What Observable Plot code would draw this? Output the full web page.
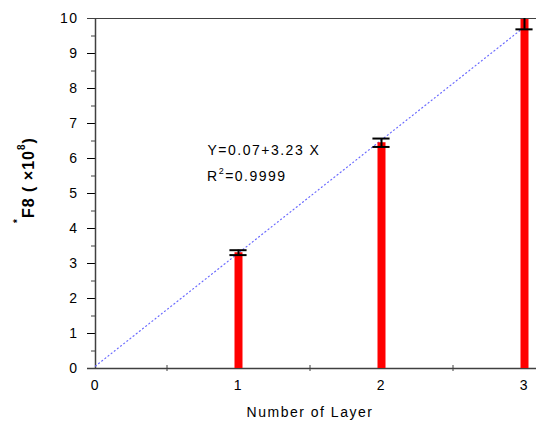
<!DOCTYPE html>
<html>
<head>
<meta charset="utf-8">
<script src="https://cdn.jsdelivr.net/npm/d3@7"></script>
<script src="https://cdn.jsdelivr.net/npm/@observablehq/plot@0.6"></script>
<style>
  html, body { margin: 0; padding: 0; background: #fff; }
  #chart svg { display: block; }
</style>
</head>
<body>
<div id="chart"></div>
<script>
// ---- data ----
const layers = [1, 2, 3];
const meanValues = [3.31, 6.45, 9.97];
const errorValues = [0.07, 0.12, 0.28];
const xTickValues = [0, 1, 2, 3];
const xMinorTicks = [0.5, 1.5, 2.5];
const yTickValues = [0, 1, 2, 3, 4, 5, 6, 7, 8, 9, 10];
const yMinorTicks = [0.5, 1.5, 2.5, 3.5, 4.5, 5.5, 6.5, 7.5, 8.5, 9.5];
const fitIntercept = 0.07;
const fitSlope = 3.23;
const fitR2 = "0.9999";
const xTitle = "Number of Layer";

const yMax = 10;
const bars = layers.map((x, i) => ({x, y: meanValues[i], lo: meanValues[i] - errorValues[i], hi: meanValues[i] + errorValues[i]}));
const fitLine = [0, 3].map(x => ({x, y: fitIntercept + fitSlope * x}));
const capHalf = 0.06; // half width of error caps in x units

const font = "'Liberation Sans', Arial, sans-serif";
const axisColor = "#404040";

const plot = Plot.plot({
  width: 536,
  height: 424,
  marginLeft: 95,
  marginRight: 12,
  marginTop: 18,
  marginBottom: 56,
  style: {fontFamily: font, fontSize: "14px", color: "#000", background: "#fff", letterSpacing: "1.5px"},
  x: {domain: [0, 3], ticks: xTickValues, tickSize: 0, tickPadding: 12, tickFormat: d => String(d), label: null},
  y: {domain: [0, yMax], clamp: true, ticks: yTickValues, tickSize: 8, tickPadding: 9, tickFormat: d => String(d), label: null},
  marks: [
    // frame lines
    Plot.ruleY([yMax], {stroke: axisColor, strokeWidth: 1, insetLeft: -8, insetRight: -12}),
    Plot.ruleY([0], {stroke: axisColor, strokeWidth: 1.5, insetLeft: -8, insetRight: -12}),
    Plot.ruleX([0], {y1: 0, y2: yMax, stroke: axisColor, strokeWidth: 1.5}),
    // minor ticks
    Plot.ruleY(yMinorTicks, {x1: 0, x2: 0, insetLeft: -4, stroke: axisColor}),
    Plot.ruleX(xMinorTicks, {y1: 0, y2: 0, insetTop: -3, insetBottom: -3, stroke: axisColor}),
    // fit line
    Plot.line(fitLine, {x: "x", y: "y", stroke: "#6a6aff", strokeWidth: 1.2, strokeDasharray: "1,3"}),
    // bars
    Plot.ruleX(bars, {x: "x", y1: 0, y2: "y", stroke: "#ff0000", strokeWidth: 8}),
    // error bars (clamped to the frame; caps beyond it are hidden)
    Plot.ruleX(bars, {x: "x", y1: "lo", y2: "hi", stroke: "#000", strokeWidth: 2}),
    Plot.ruleY(bars.filter(d => d.lo <= yMax), {y: "lo", x1: d => d.x - capHalf, x2: d => d.x + capHalf, stroke: "#000", strokeWidth: 2}),
    Plot.ruleY(bars.filter(d => d.hi <= yMax), {y: "hi", x1: d => d.x - capHalf, x2: d => d.x + capHalf, stroke: "#000", strokeWidth: 2}),
    // equation
    Plot.text([`Y=${fitIntercept}+${fitSlope} X`], {text: d => d, frameAnchor: "top-left", textAnchor: "start", lineAnchor: "middle", dx: 112, dy: 132, fontSize: 14, fill: "#000"}),
    // x title
    Plot.text([xTitle], {text: d => d, frameAnchor: "bottom", lineAnchor: "middle", dy: 44, fontSize: 14, fill: "#000"})
  ]
});

document.getElementById("chart").appendChild(plot);

// rich-text labels (superscripts)
const svg = d3.select(plot);
const r2 = svg.append("text")
  .attr("x", 207).attr("y", 181).attr("text-anchor", "start")
  .attr("font-family", font).attr("font-size", 14).attr("letter-spacing", "1.5px").attr("fill", "#000");
r2.append("tspan").text("R");
r2.append("tspan").attr("font-size", 9).attr("dy", -7).text("2");
r2.append("tspan").attr("dy", 7).text("=" + fitR2);

const yl = svg.append("text")
  .attr("transform", "translate(34,223) rotate(-90)").attr("text-anchor", "start")
  .attr("font-family", font).attr("font-size", 16).attr("font-weight", "bold").attr("letter-spacing", "1px").attr("fill", "#000");
yl.append("tspan").attr("font-size", 10).attr("dy", -13).text("*");
yl.append("tspan").attr("dy", 13).text("F8 ( ×10");
yl.append("tspan").attr("font-size", 10).attr("dy", -9).text("8");
yl.append("tspan").attr("dy", 9).text(")");
</script>
</body>
</html>
